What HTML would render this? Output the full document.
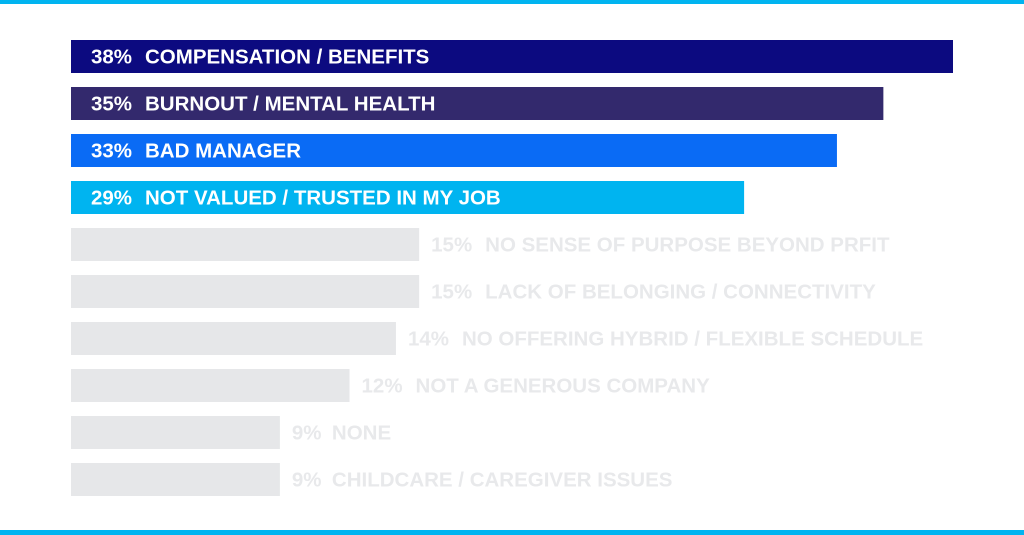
<!DOCTYPE html>
<html><head><meta charset="utf-8"><style>
html,body{margin:0;padding:0;background:#fff;width:1024px;height:535px;overflow:hidden}
svg text{font-family:"Liberation Sans",sans-serif;font-weight:bold;font-size:20.5px}
</style></head><body>
<svg id="c" width="1024" height="535">
<rect x="0" y="0" width="1024" height="4" fill="#00b4f0"/>
<rect x="0" y="530" width="1024" height="5" fill="#00b4f0"/>
</svg>
<script>
const categories=["COMPENSATION / BENEFITS","BURNOUT / MENTAL HEALTH","BAD MANAGER","NOT VALUED / TRUSTED IN MY JOB","NO SENSE OF PURPOSE BEYOND PRFIT","LACK OF BELONGING / CONNECTIVITY","NO OFFERING HYBRID / FLEXIBLE SCHEDULE","NOT A GENEROUS COMPANY","NONE","CHILDCARE / CAREGIVER ISSUES"];
const values=[38,35,33,29,15,15,14,12,9,9];
const colors=["#0c0a80","#33296d","#0a6bf5","#00b4f0"];
const svg=document.getElementById('c');
const NS="http://www.w3.org/2000/svg";
const x0=71, pxPer=882/38, y0=40, step=47, bh=33;
const xs=v=>v*pxPer;
values.forEach((v,i)=>{
  const y=y0+i*step, hi=i<colors.length;
  const r=document.createElementNS(NS,'rect');
  r.setAttribute('x',x0);r.setAttribute('y',y);r.setAttribute('width',xs(v));r.setAttribute('height',bh);
  r.setAttribute('fill',hi?colors[i]:'#e6e7e9');
  
  
  svg.appendChild(r);
  const tx=hi?91:x0+xs(v)+12;
  const fill=hi?'#fff':'#e8e9eb';
  const t1=document.createElementNS(NS,'text');
  t1.setAttribute('x',tx);t1.setAttribute('y',y+bh/2+7);t1.setAttribute('fill',fill);
  t1.textContent=v+'%';
  
  
  svg.appendChild(t1);
  const t2=document.createElementNS(NS,'text');
  t2.setAttribute('x',tx+(String(v).length===1?40:54));t2.setAttribute('y',y+bh/2+7);t2.setAttribute('fill',fill);
  t2.textContent=categories[i];
  
  
  svg.appendChild(t2);
});
</script>
</body></html>
